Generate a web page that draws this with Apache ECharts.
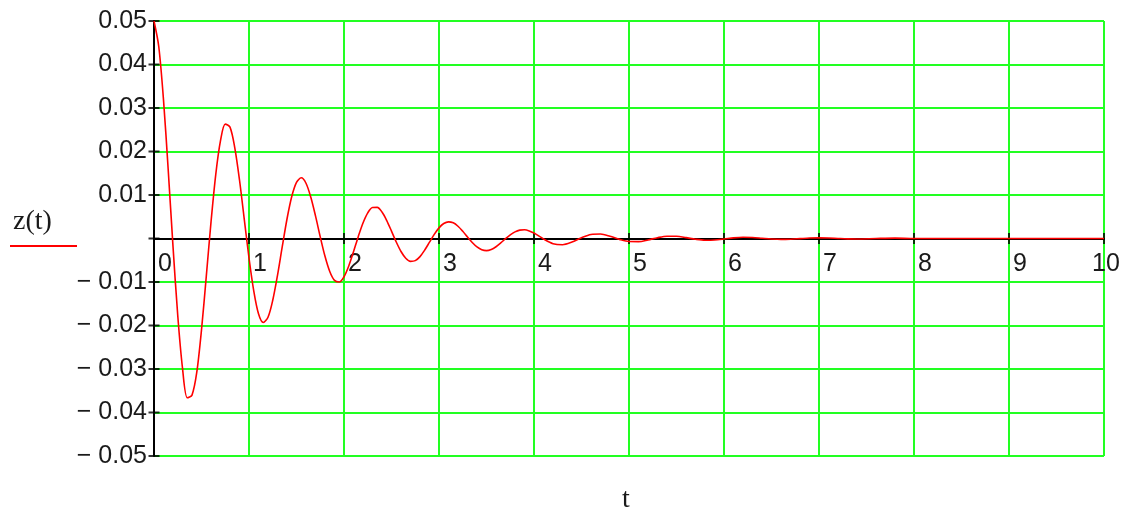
<!DOCTYPE html>
<html>
<head>
<meta charset="utf-8">
<script src="https://cdn.jsdelivr.net/npm/echarts@6/dist/echarts.min.js"></script>
<style>
html,body{margin:0;padding:0;background:#fff;}
#chart{width:1131px;height:509px;}
</style>
</head>
<body>
<div id="chart"></div>
<script>
// t values (time)
var tValues = [
  0,0.05,0.10,0.15,0.20,0.25,0.30,0.35,0.40,0.45,0.50,0.55,0.60,0.65,0.70,0.75,0.80,0.85,0.90,0.95,
  1.00,1.05,1.10,1.15,1.20,1.25,1.30,1.35,1.40,1.45,1.50,1.55,1.60,1.65,1.70,1.75,1.80,1.85,1.90,1.95,
  2.00,2.05,2.10,2.15,2.20,2.25,2.30,2.35,2.40,2.45,2.50,2.55,2.60,2.65,2.70,2.75,2.80,2.85,2.90,2.95,
  3.00,3.05,3.10,3.15,3.20,3.25,3.30,3.35,3.40,3.45,3.50,3.55,3.60,3.65,3.70,3.75,3.80,3.85,3.90,3.95,
  4.0,4.1,4.2,4.3,4.4,4.5,4.6,4.7,4.8,4.9,
  5.0,5.1,5.2,5.3,5.4,5.5,5.6,5.7,5.8,5.9,
  6.0,6.1,6.2,6.3,6.4,6.5,6.6,6.7,6.8,6.9,
  7.0,7.1,7.2,7.3,7.4,7.6,7.8,8.0,8.5,9.0,9.5,10.0
];
// z(t) values
var zValues = [
  0.0500,0.04414,0.03188,0.01564,-0.00180,-0.01770,-0.02980,-0.03660,-0.03600,-0.03080,
  -0.02100,-0.00880,0.00376,0.01470,0.02249,0.02630,0.02560,0.02091,0.01345,0.00447,
  -0.00448,-0.01203,-0.01730,-0.01930,-0.01810,-0.01419,-0.00846,-0.00188,0.00448,0.00964,
  0.01289,0.01395,0.01270,0.00953,0.00519,0.00038,-0.00410,-0.00759,-0.00963,-0.01001,
  -0.00880,-0.00632,-0.00306,0.00043,0.00356,0.00590,0.00713,0.00716,0.00608,0.00413,
  0.00170,-0.00081,-0.00299,-0.00453,-0.00525,-0.00509,-0.00416,-0.00265,-0.00085,0.00094,
  0.00244,0.00344,0.00383,0.00360,0.00282,0.00167,0.00035,-0.00092,-0.00195,-0.00259,
  -0.00278,-0.00252,-0.00189,-0.00102,-0.00005,0.00084,0.00153,0.00193,0.00200,0.00175,
  0.00125,-0.00010,-0.00119,-0.00143,-0.00082,0.00017,0.00091,0.00102,0.00052,-0.00020,
  -0.00069,-0.00072,-0.00033,0.00019,0.00052,0.00050,0.00020,-0.00017,-0.00039,-0.00035,
  -0.00012,0.00015,0.00029,0.00024,0.00006,-0.00012,-0.00021,-0.00016,-0.00003,0.00010,
  0.00015,0.00011,0.00001,-0.00008,-0.00011,0,0.00008,0,0,0,0,0
];
var xTicks = [0,1,2,3,4,5,6,7,8,9,10];
var yTicks = [-0.05,-0.04,-0.03,-0.02,-0.01,0,0.01,0.02,0.03,0.04,0.05];

var seriesData = tValues.map(function(t,i){ return [t, zValues[i]]; });
var xTickMarks = xTicks.map(function(t){ return [t, 0]; });
var yTickMarks = yTicks.map(function(v){ return [0, v]; });

var labelFont = {fontFamily:'"Liberation Sans", Arial, sans-serif', fontSize:25, color:'#1a1a1a'};
var serifFont = '"Liberation Serif", "Times New Roman", serif';

var gridTop = 21, gridBottom = 53, chartH = 509;
var plotH = chartH - gridTop - gridBottom;
// distance from the bottom edge of the plot to the z = 0 line
var zeroOffset = plotH * (0 - yTicks[0]) / (yTicks[yTicks.length-1] - yTicks[0]);

var chart = echarts.init(document.getElementById('chart'), null, {renderer:'canvas'});
chart.setOption({
  animation:false,
  backgroundColor:'#ffffff',
  grid:{left:154, right:27, top:gridTop, bottom:gridBottom, containLabel:false},
  xAxis:{
    type:'value', min:xTicks[0], max:xTicks[xTicks.length-1], interval:1,
    position:'bottom', offset:-zeroOffset,
    axisLine:{show:true, onZero:false, lineStyle:{color:'#000', width:2}},
    axisTick:{show:false},
    axisLabel:Object.assign({show:true, margin:13, align:'left', padding:[0,0,0,4], alignMaxLabel:'center',
      formatter:function(v){return String(v);}}, labelFont),
    splitLine:{show:true, lineStyle:{color:'#22ff22', width:2}}
  },
  yAxis:{
    type:'value', min:yTicks[0], max:yTicks[yTicks.length-1], interval:0.01,
    axisLine:{show:true, onZero:false, lineStyle:{color:'#000', width:2}},
    axisTick:{show:false},
    axisLabel:Object.assign({show:true, margin:7,
      formatter:function(v){
        if (Math.abs(v) < 1e-9) return '';
        return v < 0 ? '\u2212 ' + (-v).toFixed(2) : v.toFixed(2);
      }}, labelFont),
    splitLine:{show:true, lineStyle:{color:'#22ff22', width:2}}
  },
  series:[{
    name:'z(t)', type:'line',
    data:seriesData, showSymbol:false, symbol:'none', smooth:0.3,
    lineStyle:{color:'#ff0000', width:1.6}, z:5
  },{
    name:'xticks', type:'scatter', data:xTickMarks, symbol:'rect', symbolSize:[2,11],
    itemStyle:{color:'#000'}, silent:true, clip:false, z:4
  },{
    name:'yticks', type:'scatter', data:yTickMarks, symbol:'rect', symbolSize:[11,2],
    itemStyle:{color:'#000'}, silent:true, clip:false, z:4
  }],
  graphic:[
    {type:'text', left:13, top:208, style:{text:'z(t)', font:'28px ' + serifFont, fill:'#1a1a1a'}},
    {type:'line', shape:{x1:10, y1:246, x2:77, y2:246}, style:{stroke:'#ff0000', lineWidth:2}},
    {type:'text', left:622, top:486, style:{text:'t', font:'28px ' + serifFont, fill:'#1a1a1a'}}
  ]
});
</script>
</body>
</html>
